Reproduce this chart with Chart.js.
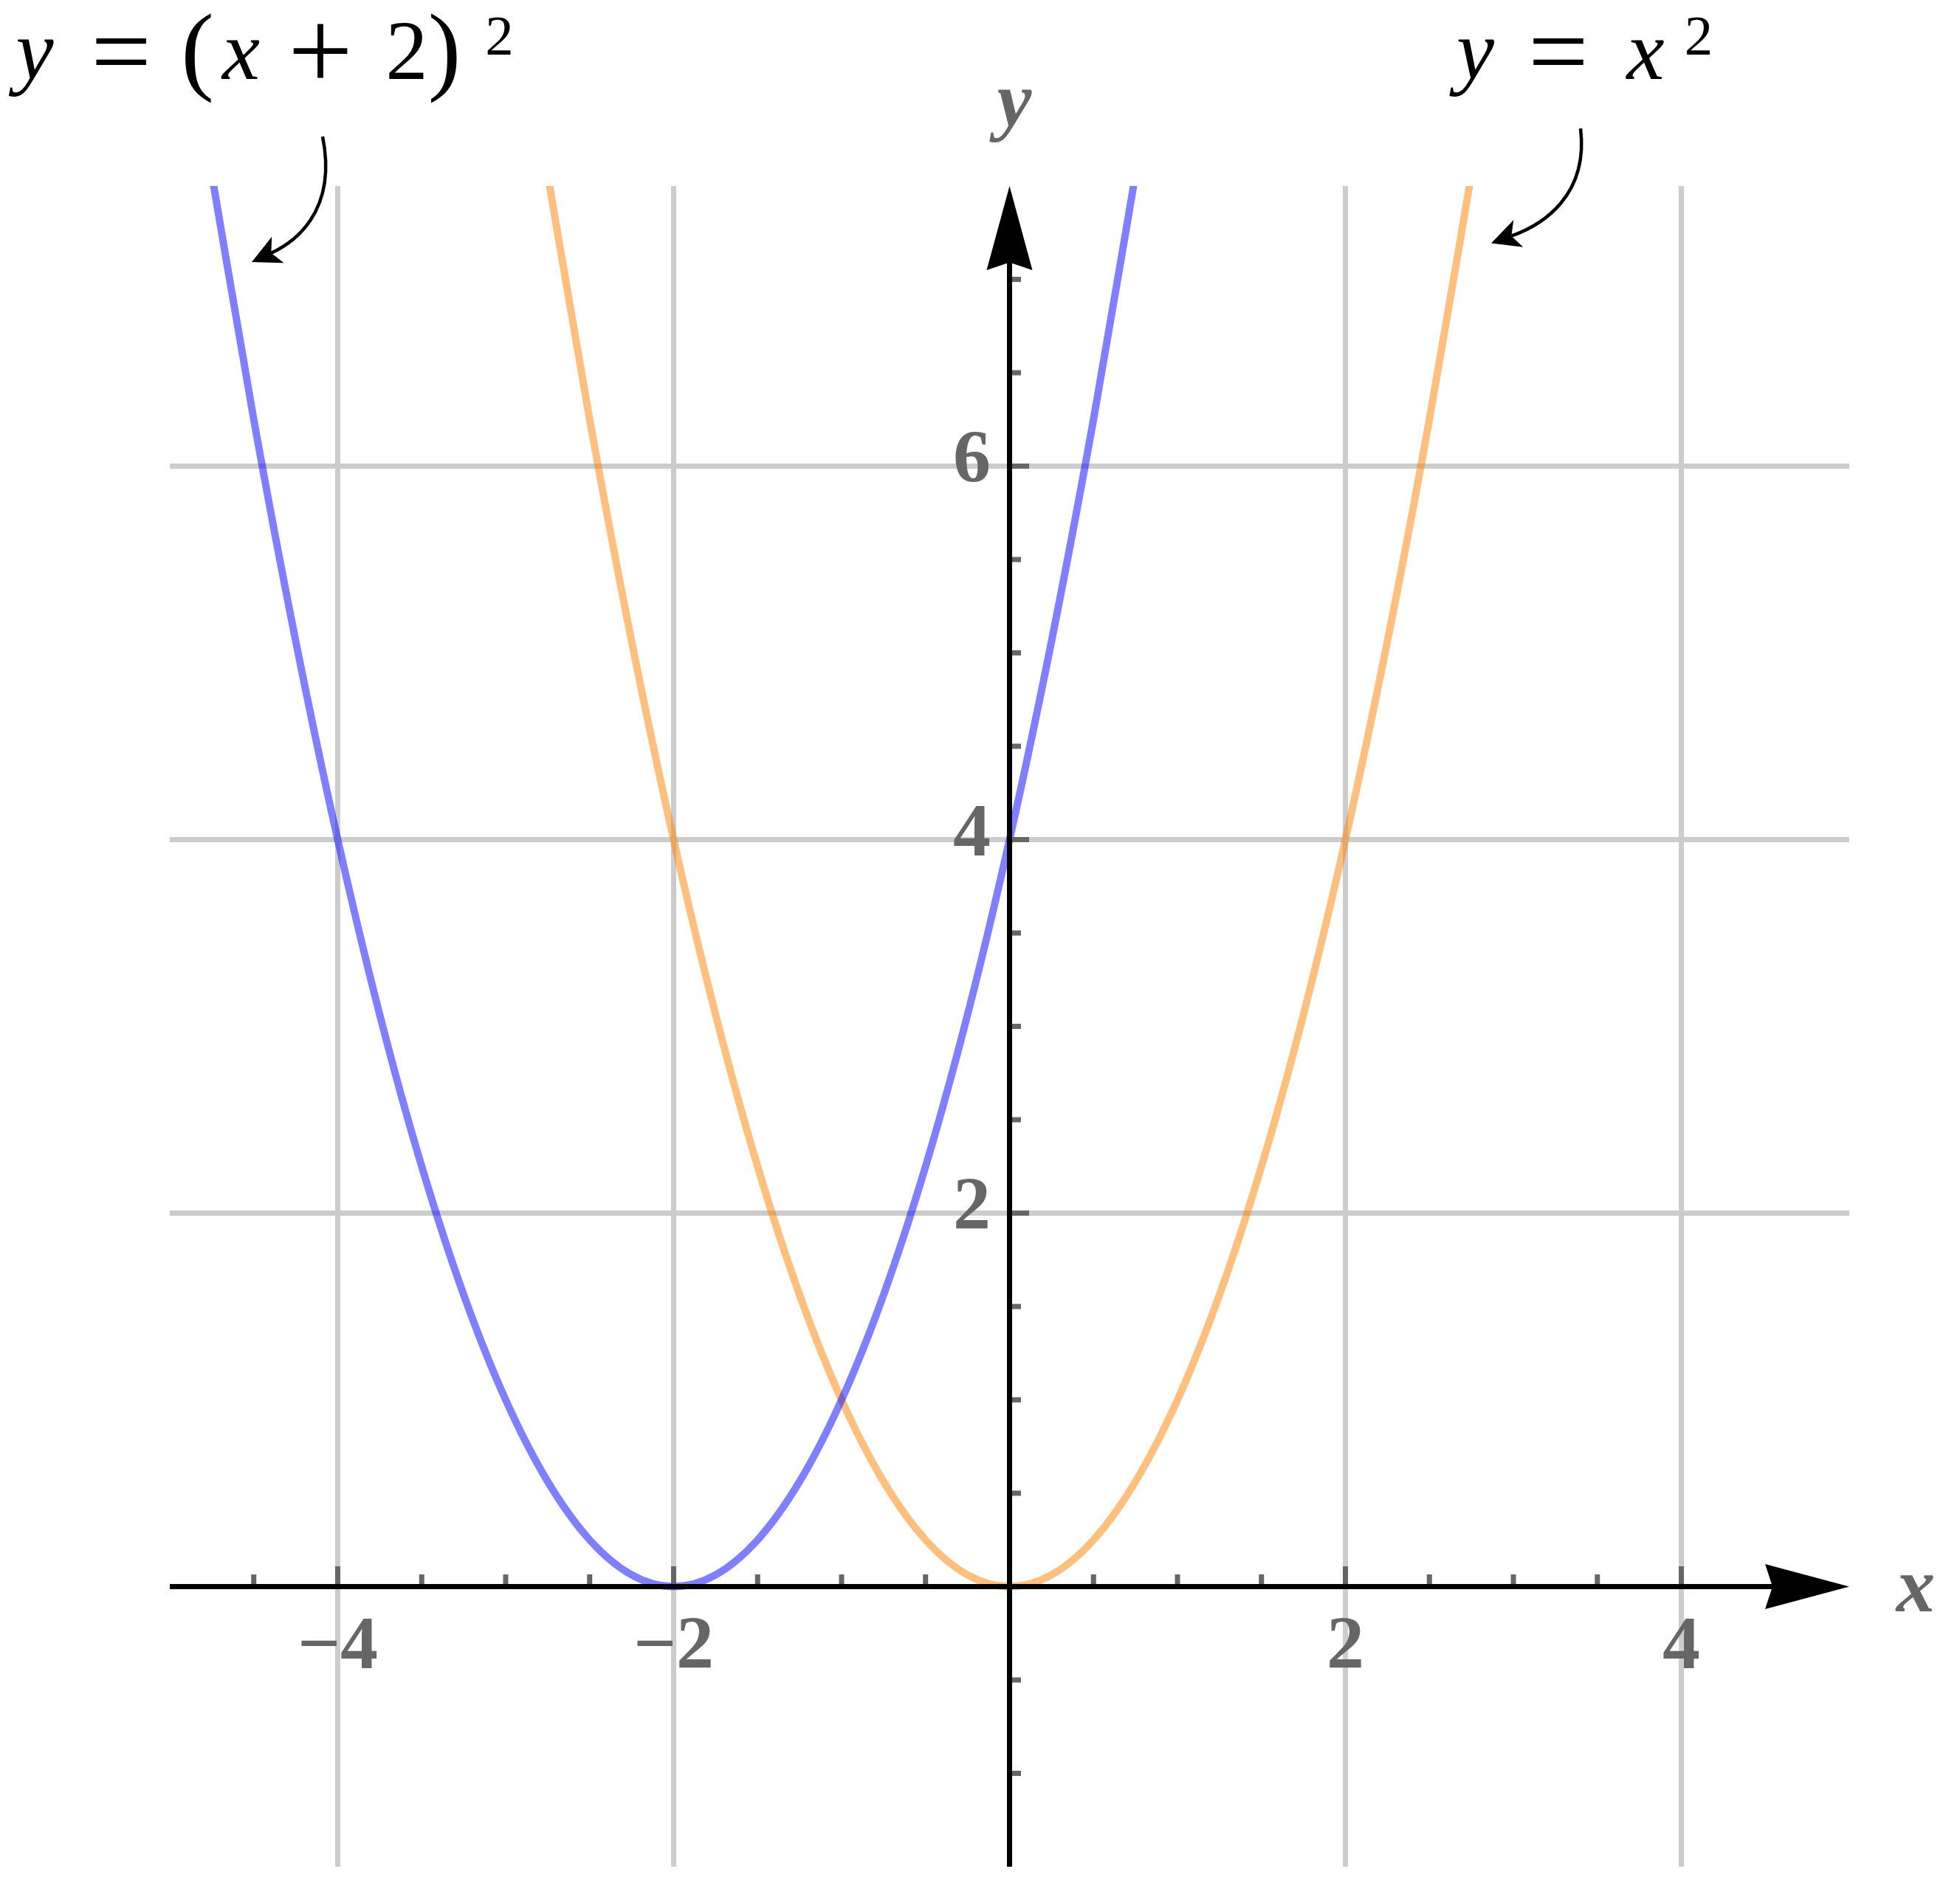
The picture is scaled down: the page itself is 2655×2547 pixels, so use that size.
<!DOCTYPE html>
<html>
<head>
<meta charset="utf-8">
<style>
  html, body { margin: 0; padding: 0; background: #ffffff; }
  canvas { display: block; }
</style>
<script src="https://cdn.jsdelivr.net/npm/chart.js@4.4.1/dist/chart.umd.min.js"></script>
</head>
<body>
<canvas id="c" width="2655" height="2547" style="width:2655px;height:2547px"></canvas>
<script>
// ---- data ----
const xOrange = [-2.75, -2.5, -2.25, -2, -1.75, -1.5, -1.25, -1, -0.75, -0.5, -0.25, 0, 0.25, 0.5, 0.75, 1, 1.25, 1.5, 1.75, 2, 2.25, 2.5, 2.75];
const yOrange = [7.5625, 6.25, 5.0625, 4, 3.0625, 2.25, 1.5625, 1, 0.5625, 0.25, 0.0625, 0, 0.0625, 0.25, 0.5625, 1, 1.5625, 2.25, 3.0625, 4, 5.0625, 6.25, 7.5625];
const xBlue = [-4.75, -4.5, -4.25, -4, -3.75, -3.5, -3.25, -3, -2.75, -2.5, -2.25, -2, -1.75, -1.5, -1.25, -1, -0.75, -0.5, -0.25, 0, 0.25, 0.5, 0.75];
const yBlue = [7.5625, 6.25, 5.0625, 4, 3.0625, 2.25, 1.5625, 1, 0.5625, 0.25, 0.0625, 0, 0.0625, 0.25, 0.5625, 1, 1.5625, 2.25, 3.0625, 4, 5.0625, 6.25, 7.5625];

const xRange = [-5, 5];
const yRange = [-1.5, 7.5];
const xMajorTicks = [-4, -2, 2, 4];
const xMinorTicks = [-4.5, -3.5, -3, -2.5, -1.5, -1, -0.5, 0.5, 1, 1.5, 2.5, 3, 3.5];
const yMajorTicks = [2, 4, 6];
const yMinorTicks = [-1, -0.5, 0.5, 1, 1.5, 2.5, 3, 3.5, 4.5, 5, 5.5, 6.5, 7];

const axisNames = ['x', 'y'];
const curveLabels = ['y = (x + 2)\u00B2', 'y = x\u00B2'];

// ---- styling ----
const SERIF = '"Liberation Serif", "Times New Roman", serif';
const GRAY = '#666666';
const toPoints = (xs, ys) => xs.map((x, i) => ({ x: x, y: ys[i] }));
const fmt = v => (v < 0 ? '\u2212' + (-v) : String(v));
const noPad = s => { s.paddingTop = 0; s.paddingBottom = 0; s.paddingLeft = 0; s.paddingRight = 0; };

function arrowHead(ctx, tip, dir, len, half, notch) {
  const ux = dir[0], uy = dir[1];
  const nx = -uy, ny = ux;
  const bx = tip[0] - ux * len, by = tip[1] - uy * len;
  const mx = tip[0] - ux * (len - notch), my = tip[1] - uy * (len - notch);
  ctx.beginPath();
  ctx.moveTo(tip[0], tip[1]);
  ctx.lineTo(bx + nx * half, by + ny * half);
  ctx.lineTo(mx, my);
  ctx.lineTo(bx - nx * half, by - ny * half);
  ctx.closePath();
  ctx.fill();
}

// annotation label tokens: [text, dx px, style, size px, dy px]
const annotations = [
  {
    text: curveLabels[0],
    anchor: [-5.804, 8.073],
    tokens: [
      ['y', 0, 'italic', 115, 0],
      ['=', 117, 'normal', 145, 11],
      ['(', 220.5, 'normal', 134, 4],
      ['x', 279.5, 'italic', 115, 0],
      ['+', 387, 'normal', 156, 14],
      ['2', 504, 'normal', 115, 0],
      [')', 555, 'normal', 134, 4],
      ['2', 629.5, 'normal', 77, -33]
    ],
    arrow: [[-4.090, 7.765], [-3.998, 7.350], [-4.275, 7.192], [-4.512, 7.093]]
  },
  {
    text: curveLabels[1],
    anchor: [2.774, 8.073],
    tokens: [
      ['y', 0, 'italic', 115, 0],
      ['=', 112.4, 'normal', 145, 11],
      ['x', 230.4, 'italic', 115, 0],
      ['2', 302.4, 'normal', 77, -33]
    ],
    arrow: [[3.400, 7.808], [3.448, 7.449], [3.176, 7.292], [2.868, 7.194]]
  }
];

const overlay = {
  id: 'overlay',
  afterDatasetsDraw(chart) {
    const ctx = chart.ctx;
    const ca = chart.chartArea;
    const xs = chart.scales.x, ys = chart.scales.y;
    const X = v => xs.getPixelForValue(v), Y = v => ys.getPixelForValue(v);
    const x0 = X(0), y0 = Y(0);
    const axisW = 7, tickW = 7;
    ctx.save();

    // tick marks
    ctx.fillStyle = GRAY;
    xMinorTicks.forEach(v => ctx.fillRect(X(v) - tickW / 2, y0 - axisW / 2 - 13, tickW, 13));
    xMajorTicks.forEach(v => ctx.fillRect(X(v) - tickW / 2, y0 - axisW / 2 - 24, tickW, 24));
    yMinorTicks.forEach(v => ctx.fillRect(x0 + axisW / 2, Y(v) - tickW / 2, 12, tickW));
    yMajorTicks.forEach(v => ctx.fillRect(x0 + axisW / 2, Y(v) - tickW / 2, 23, tickW));

    // axes with arrowheads
    const xTip = [X(xRange[1]), y0];
    const yTip = [x0, Y(yRange[1])];
    ctx.strokeStyle = '#000';
    ctx.fillStyle = '#000';
    ctx.lineWidth = axisW;
    ctx.beginPath(); ctx.moveTo(ca.left, y0); ctx.lineTo(xTip[0] - 100, y0); ctx.stroke();
    ctx.beginPath(); ctx.moveTo(x0, ca.bottom); ctx.lineTo(x0, yTip[1] + 100); ctx.stroke();
    arrowHead(ctx, xTip, [1, 0], 114, 30.5, 10);
    arrowHead(ctx, yTip, [0, -1], 114, 31, 10.5);

    // axis names
    ctx.fillStyle = GRAY;
    ctx.font = 'italic bold 105px ' + SERIF;
    ctx.textAlign = 'center';
    ctx.textBaseline = 'alphabetic';
    ctx.fillText(axisNames[0], xTip[0] + 90, y0 + 33.5);
    ctx.fillText(axisNames[1], yTip[0] + 6.5, yTip[1] - 82);

    // curve annotations
    annotations.forEach(a => {
      const ax = X(a.anchor[0]), ay = Y(a.anchor[1]);
      ctx.fillStyle = '#000';
      ctx.textAlign = 'center';
      ctx.textBaseline = 'alphabetic';
      a.tokens.forEach(t => {
        ctx.font = (t[2] === 'italic' ? 'italic ' : '') + t[3] + 'px ' + SERIF;
        ctx.fillText(t[0], ax + t[1], ay + t[4]);
      });
      const p = a.arrow.map(q => [X(q[0]), Y(q[1])]);
      let dx = p[3][0] - p[2][0], dy = p[3][1] - p[2][1];
      const d = Math.hypot(dx, dy); dx /= d; dy /= d;
      const len = 39, half = 19.5, notch = 10;
      const end = [p[3][0] - dx * (len - notch), p[3][1] - dy * (len - notch)];
      ctx.strokeStyle = '#000';
      ctx.lineWidth = 4.5;
      ctx.beginPath();
      ctx.moveTo(p[0][0], p[0][1]);
      ctx.bezierCurveTo(p[1][0], p[1][1], p[2][0], p[2][1], end[0], end[1]);
      ctx.stroke();
      arrowHead(ctx, p[3], [dx, dy], len, half, notch);
    });
    ctx.restore();
  }
};

new Chart(document.getElementById('c'), {
  type: 'line',
  data: {
    datasets: [
      {
        label: curveLabels[0],
        data: toPoints(xBlue, yBlue),
        borderColor: 'rgba(0,0,255,0.5)',
        borderWidth: 10,
        pointRadius: 0,
        cubicInterpolationMode: 'monotone',
        fill: false,
        clip: 0
      },
      {
        label: curveLabels[1],
        data: toPoints(xOrange, yOrange),
        borderColor: 'rgba(255,128,0,0.5)',
        borderWidth: 10,
        pointRadius: 0,
        cubicInterpolationMode: 'monotone',
        fill: false,
        clip: 0
      }
    ]
  },
  options: {
    responsive: false,
    animation: false,
    devicePixelRatio: 1,
    layout: { padding: { left: 230, right: 150, top: 252, bottom: 18 } },
    plugins: { legend: { display: false }, tooltip: { enabled: false } },
    scales: {
      x: {
        type: 'linear',
        min: xRange[0], max: xRange[1],
        position: { y: 0 },
        afterBuildTicks: s => { s.ticks = xMajorTicks.map(v => ({ value: v })); },
        afterFit: noPad,
        grid: { color: '#cccccc', lineWidth: 7, drawTicks: false },
        border: { display: false },
        ticks: {
          autoSkip: false, maxRotation: 0, padding: 23,
          color: GRAY,
          font: { family: SERIF, weight: 'bold', size: 102 },
          callback: v => fmt(v)
        }
      },
      y: {
        type: 'linear',
        min: yRange[0], max: yRange[1],
        position: { x: 0 },
        afterBuildTicks: s => { s.ticks = yMajorTicks.map(v => ({ value: v })); },
        afterFit: noPad,
        grid: { color: '#cccccc', lineWidth: 7, drawTicks: false },
        border: { display: false },
        ticks: {
          autoSkip: false, padding: 0, labelOffset: -5,
          color: GRAY,
          font: { family: SERIF, weight: 'bold', size: 102 },
          callback: v => fmt(v) + ' '
        }
      }
    }
  },
  plugins: [overlay]
});
</script>
</body>
</html>
